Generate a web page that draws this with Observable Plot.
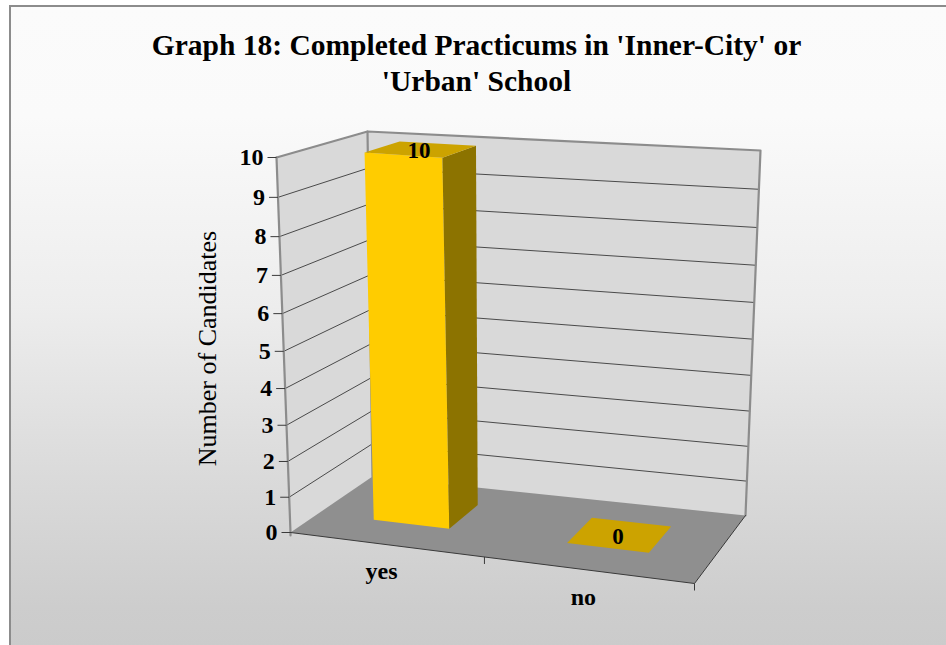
<!DOCTYPE html>
<html><head><meta charset="utf-8">
<script src="https://cdn.jsdelivr.net/npm/d3@7"></script>
<script src="https://cdn.jsdelivr.net/npm/@observablehq/plot@0.6"></script>
<style>
html,body{margin:0;padding:0;background:#fff;}
#wrap{position:relative;width:946px;height:645px;overflow:hidden;}
#bg{position:absolute;left:9px;top:5px;width:937px;height:640px;border-top:2px solid #8c8c8c;border-left:2px solid #8c8c8c;
background:linear-gradient(to bottom,#fbfbfb 0px,#fafafa 110px,#ededed 300px,#dadada 470px,#cdcdcd 600px,#cbcbcb 640px);}
#chart{position:absolute;left:0;top:0;}
</style></head><body>
<div id="wrap"><div id="bg"></div><div id="chart"></div></div>
<script>
// ---- data ----
const categories = ["yes", "no"];
const values = [10, 0];
const yTicks = [0, 1, 2, 3, 4, 5, 6, 7, 8, 9, 10];
const titleLines = ["Graph 18: Completed Practicums in 'Inner-City' or", "'Urban' School"];
const yLabel = "Number of Candidates";

// ---- scales (normalized 3D space) ----
const yS = Plot.scale({y: {domain: [0, 10], range: [0, 1]}});
const xS = Plot.scale({x: {type: "band", domain: categories, range: [0, 1], paddingInner: 0.6, paddingOuter: 0.3}});
const depth = [0.3, 0.7];

// ---- 3D box projection (frame corners of the plot area) ----
const C = {
  flb: [290, 532], flt: [276, 157], blb: [372, 476], blt: [367, 131],
  frb: [694, 583], frt: [688, 189], brb: [745, 515], brt: [760, 150]
};
const warp = (t, r) => t / (t + r * (1 - t));
const lerp = (p, q, t) => [p[0] + (q[0] - p[0]) * t, p[1] + (q[1] - p[1]) * t];
function proj(u, v, w) {
  const a = warp(u, 1.083), b = warp(v, 1.07), c = warp(w, 0.82);
  const f0 = lerp(lerp(C.flb, C.frb, a), lerp(C.flt, C.frt, a), b);
  const f1 = lerp(lerp(C.blb, C.brb, a), lerp(C.blt, C.brt, a), b);
  return lerp(f0, f1, c);
}

function poly(id, pts) { return pts.map(p => ({id, x: p[0], y: p[1]})); }

// walls and floor
const leftWall = poly("lw", [proj(0,0,0), proj(0,0,1), proj(0,1,1), proj(0,1,0)]);
const backWall = poly("bw", [proj(0,0,1), proj(1,0,1), proj(1,1,1), proj(0,1,1)]);
const floor = poly("fl", [proj(0,0,0), proj(1,0,0), proj(1,0,1), proj(0,0,1)]);

// gridlines
const grid = [];
yTicks.filter(t => t > 0 && t < 10).forEach(t => {
  const v = yS.apply(t);
  grid.push(...poly("g" + t, [proj(0,v,0), proj(0,v,1), proj(1,v,1)]));
});
const vmax = yS.apply(10);
const edges = [
  ...poly("top", [proj(0,vmax,0), proj(0,vmax,1), proj(1,vmax,1), proj(1,0,1)]),
  ...poly("bl", [proj(0,vmax,1), proj(0,0,1)]),
  ...poly("ax", [proj(0,vmax,0), proj(0,0,0), [proj(0,0,0)[0], proj(0,0,0)[1] + 3]])
];
const floorEdge = poly("fe", [proj(0,0,0), proj(1,0,0), proj(1,0,1)]);

// bars
const fronts = [], sides = [], tops = [], dataLabels = [];
categories.forEach((c, i) => {
  const u0 = xS.apply(c), u1 = u0 + xS.bandwidth;
  const v0 = yS.apply(0), v1 = yS.apply(values[i]);
  const [w0, w1] = depth;
  if (v1 > v0) {
    fronts.push(...poly(c + "f", [proj(u0,v0,w0), proj(u1,v0,w0), proj(u1,v1,w0), proj(u0,v1,w0)]));
    sides.push(...poly(c + "s", [proj(u1,v0,w0), proj(u1,v0,w1), proj(u1,v1,w1), proj(u1,v1,w0)]));
  }
  tops.push(...poly(c + "t", [proj(u0,v1,w0), proj(u1,v1,w0), proj(u1,v1,w1), proj(u0,v1,w1)]));
  const p = proj((u0 + u1) / 2, v1, (w0 + w1) / 2);
  dataLabels.push({x: p[0] - 2, y: p[1] + 2, text: String(values[i])});
});

// axis ticks & labels
const yTickRows = yTicks.map(t => { const p = proj(0, yS.apply(t), 0); return {x: p[0], y: p[1], t}; });
const catTicks = categories.map(c => { const u = xS.apply(c) + xS.bandwidth / 2 + xS.step / 2; const p = proj(u, 0, 0); return {x: p[0], y: p[1]}; });
const catLabels = categories.map(c => { const p = proj(xS.apply(c) + xS.bandwidth / 2, 0, 0); return {x: p[0] - 4, y: p[1] + 27, text: c}; });

const font = "Liberation Serif, Times New Roman, serif";
const chart = Plot.plot({
  width: 946, height: 645, margin: 0,
  x: {type: "identity", axis: null}, y: {type: "identity", axis: null},
  style: {background: "transparent", fontFamily: font, overflow: "visible"},
  marks: [
    Plot.line(leftWall, {x: "x", y: "y", z: "id", fill: "#d9d9d9", stroke: "none", curve: "linear-closed"}),
    Plot.line(backWall, {x: "x", y: "y", z: "id", fill: "#d9d9d9", stroke: "none", curve: "linear-closed"}),
    Plot.line(floor, {x: "x", y: "y", z: "id", fill: "#8f8f8f", stroke: "none", curve: "linear-closed"}),
    Plot.line(grid, {x: "x", y: "y", z: "id", stroke: "#4a4a4a", strokeWidth: 1}),
    Plot.line(edges, {x: "x", y: "y", z: "id", stroke: "#8c8c8c", strokeWidth: 2.2}),
    Plot.line(floorEdge, {x: "x", y: "y", z: "id", stroke: "#3a3a3a", strokeWidth: 1}),
    Plot.link(catTicks, {x1: "x", y1: "y", x2: "x", y2: d => d.y + 7, stroke: "#3a3a3a", strokeWidth: 1}),
    Plot.link(yTickRows, {x1: d => d.x - 9, y1: "y", x2: "x", y2: "y", stroke: "#3a3a3a", strokeWidth: 1}),
    Plot.line(fronts, {x: "x", y: "y", z: "id", fill: "#ffcc00", stroke: "none", curve: "linear-closed"}),
    Plot.line(sides, {x: "x", y: "y", z: "id", fill: "#8c7300", stroke: "none", curve: "linear-closed"}),
    Plot.line(tops, {x: "x", y: "y", z: "id", fill: "#cca300", stroke: "none", curve: "linear-closed"}),
    Plot.text(dataLabels, {x: "x", y: "y", text: "text", fontSize: 23, fontWeight: "bold", fill: "#000"}),
    Plot.text(yTickRows, {x: d => d.x - 13, y: "y", text: d => String(d.t), textAnchor: "end", fontSize: 24, fontWeight: "bold", fill: "#000"}),
    Plot.text(catLabels, {x: "x", y: "y", text: "text", fontSize: 24, fontWeight: "bold", fill: "#000"}),
    Plot.text([yLabel], {x: 207, y: 348, text: d => d, rotate: -90, fontSize: 26, fill: "#000"}),
    Plot.text(titleLines, {x: 476, y: (d, i) => 45 + i * 36, text: d => d, fontSize: 29.5, fontWeight: "bold", fill: "#000"})
  ]
});
document.getElementById("chart").appendChild(chart);
</script>
</body></html>
